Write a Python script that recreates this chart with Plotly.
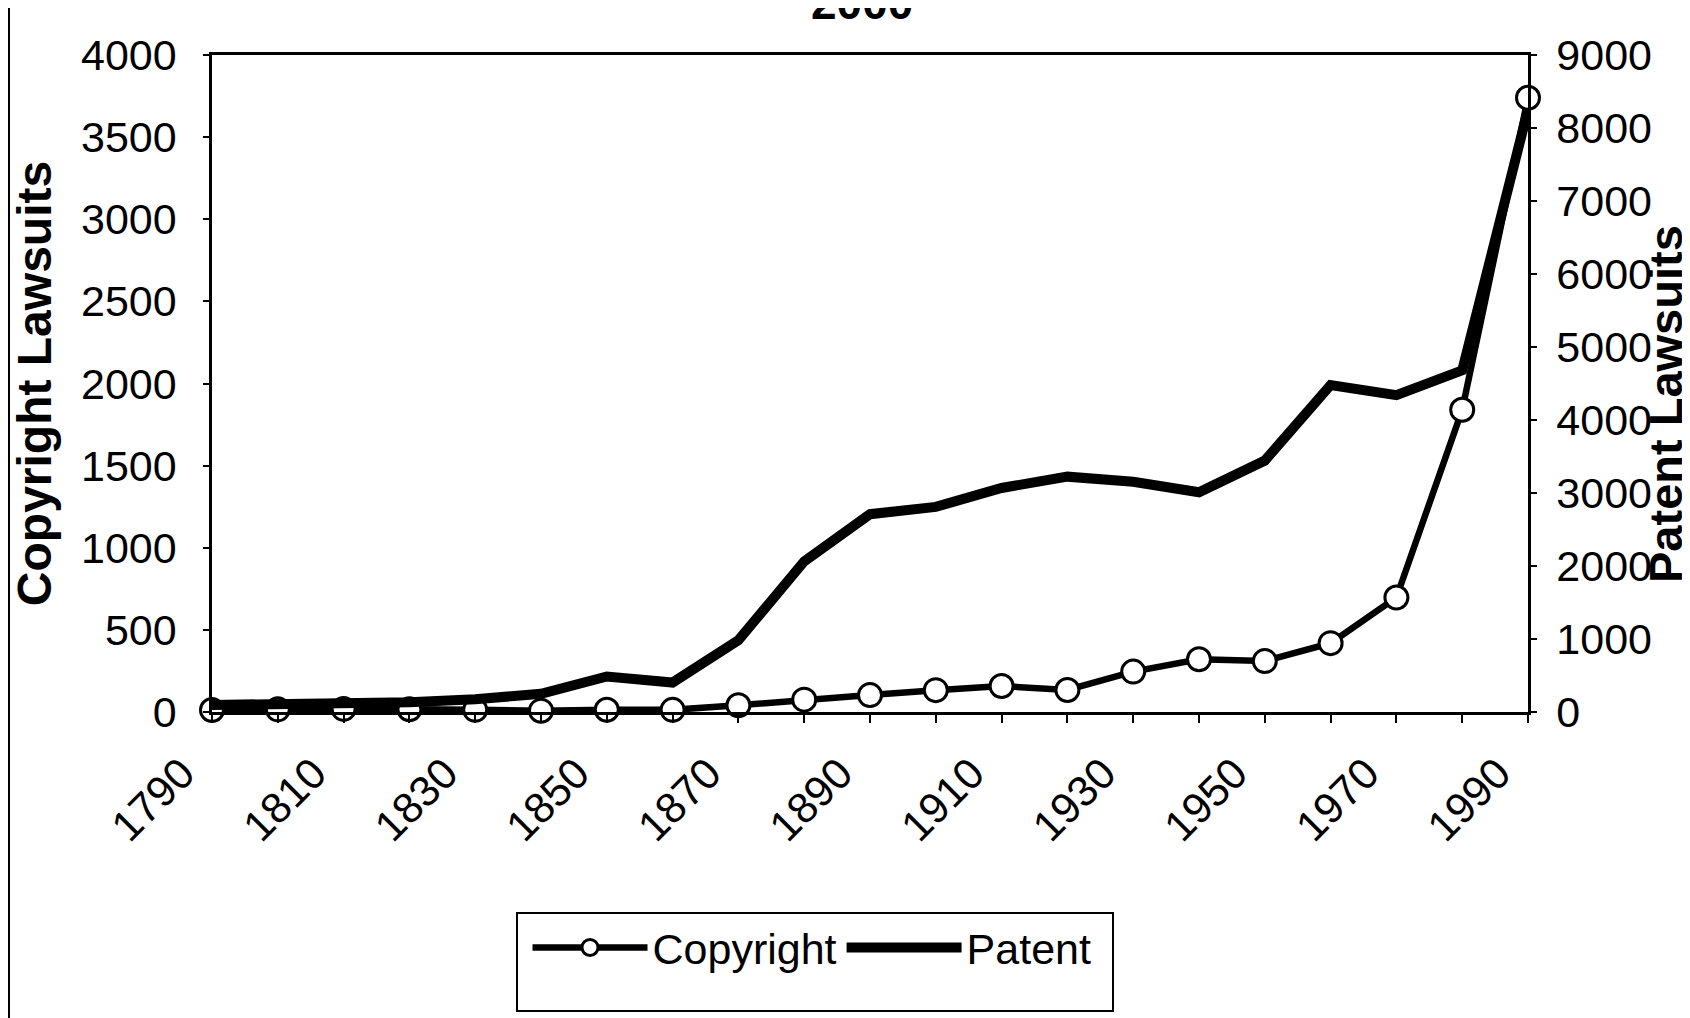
import plotly.graph_objects as go

years = [1790, 1800, 1810, 1820, 1830, 1840, 1850, 1860, 1870, 1880, 1890,
         1900, 1910, 1920, 1930, 1940, 1950, 1960, 1970, 1980, 1990]
copyright = [12, 16, 19, 17, 13, 8, 14, 13, 41, 75, 103,
             133, 158, 134, 246, 321, 310, 419, 697, 1840, 3740]
patent = [96, 104, 135, 135, 174, 250, 487, 404, 983, 2063, 2710,
          2810, 3069, 3224, 3155, 3011, 3444, 4479, 4340, 4680, 8250]

left_ticks = [0, 500, 1000, 1500, 2000, 2500, 3000, 3500, 4000]
right_ticks = [0, 1000, 2000, 3000, 4000, 5000, 6000, 7000, 8000, 9000]

NARROW = "Liberation Sans Narrow, Arial Narrow, Liberation Sans, Arial, sans-serif"
BOLD = "Liberation Sans, Arial, sans-serif"

OFF = 8  # page body margin
W, H = 1690, 1018
L, T = 212 - OFF, 55 - OFF
PW, PH = 1316, 657
R = W - L - PW
B = H - T - PH

def px_to_paper_x(px):
    return (px - OFF - L) / PW

def px_to_paper_y(py):
    return (T + PH - (py - OFF)) / PH

TICKSIZE = 43

fig = go.Figure()
fig.add_trace(go.Scatter(
    x=years, y=copyright, name="Copyright", mode="lines+markers",
    line=dict(color="black", width=6.5),
    marker=dict(symbol="circle", size=23, color="white",
                line=dict(color="black", width=3)),
    cliponaxis=False,
    yaxis="y",
))
fig.add_trace(go.Scatter(
    x=years, y=patent, name="Patent", mode="lines",
    line=dict(color="black", width=10),
    cliponaxis=False,
    yaxis="y2",
))

fig.update_layout(
    width=W, height=H,
    margin=dict(l=L, r=R, t=T, b=B, autoexpand=False),
    paper_bgcolor="white", plot_bgcolor="white",
    showlegend=True,
    legend=dict(
        orientation="h", x=px_to_paper_x(812), xanchor="center",
        y=px_to_paper_y(913), yanchor="top",
        borderwidth=0, bgcolor="rgba(0,0,0,0)",
        font=dict(family=NARROW, size=TICKSIZE, color="black"),
        itemwidth=115, tracegroupgap=0,
    ),
    xaxis=dict(
        range=[1790, 1990], tick0=1790, dtick=20, tickangle=-45,
        ticks="outside", ticklen=8, tickwidth=2, tickcolor="black",
        minor=dict(tick0=1790, dtick=10, ticks="outside", ticklen=8,
                   tickwidth=2, tickcolor="black"),
        showline=True, linecolor="black", linewidth=2.5, mirror=True,
        showgrid=False, zeroline=False,
        tickfont=dict(family=NARROW, size=TICKSIZE, color="black"),
        ticklabelstandoff=8, ticklabelshift=-30,
    ),
    yaxis=dict(
        range=[0, 4000], tickvals=left_ticks,
        ticktext=[str(v) for v in left_ticks],
        ticks="outside", ticklen=6, tickwidth=1.5, tickcolor="black",
        showline=True, linecolor="black", linewidth=2.5,
        showgrid=False, zeroline=False,
        tickfont=dict(family=NARROW, size=TICKSIZE, color="black"),
        ticklabelstandoff=18,
        title=dict(text="<b>Copyright Lawsuits</b>",
                   font=dict(family=BOLD, size=48, color="black"),
                   standoff=22),
    ),
    yaxis2=dict(
        range=[0, 9000], tickvals=right_ticks,
        ticktext=[str(v) for v in right_ticks],
        overlaying="y", side="right",
        ticks="outside", ticklen=6, tickwidth=1.5, tickcolor="black",
        showline=True, linecolor="black", linewidth=2.5,
        showgrid=False, zeroline=False,
        tickfont=dict(family=NARROW, size=TICKSIZE, color="black"),
        ticklabelstandoff=11,
    ),
    annotations=[
        dict(text="<b>Patent Lawsuits</b>", textangle=-90,
             x=px_to_paper_x(1665), y=px_to_paper_y(404),
             xref="paper", yref="paper", xanchor="center", yanchor="middle",
             showarrow=False,
             font=dict(family=BOLD, size=47, color="black")),
        dict(text="<b>2000</b>",
             x=px_to_paper_x(862), y=px_to_paper_y(3),
             xref="paper", yref="paper", xanchor="center", yanchor="middle",
             showarrow=False,
             font=dict(family=BOLD, size=46, color="black")),
    ],
    shapes=[
        dict(type="line", xref="paper", yref="paper",
             x0=px_to_paper_x(9), x1=px_to_paper_x(9),
             y0=px_to_paper_y(-20), y1=px_to_paper_y(H + 20),
             line=dict(color="black", width=2)),
        dict(type="rect", xref="paper", yref="paper",
             x0=px_to_paper_x(517), x1=px_to_paper_x(1113),
             y0=px_to_paper_y(913), y1=px_to_paper_y(1011),
             line=dict(color="black", width=2), fillcolor="rgba(0,0,0,0)"),
    ],
)

fig.write_html("out.html")
